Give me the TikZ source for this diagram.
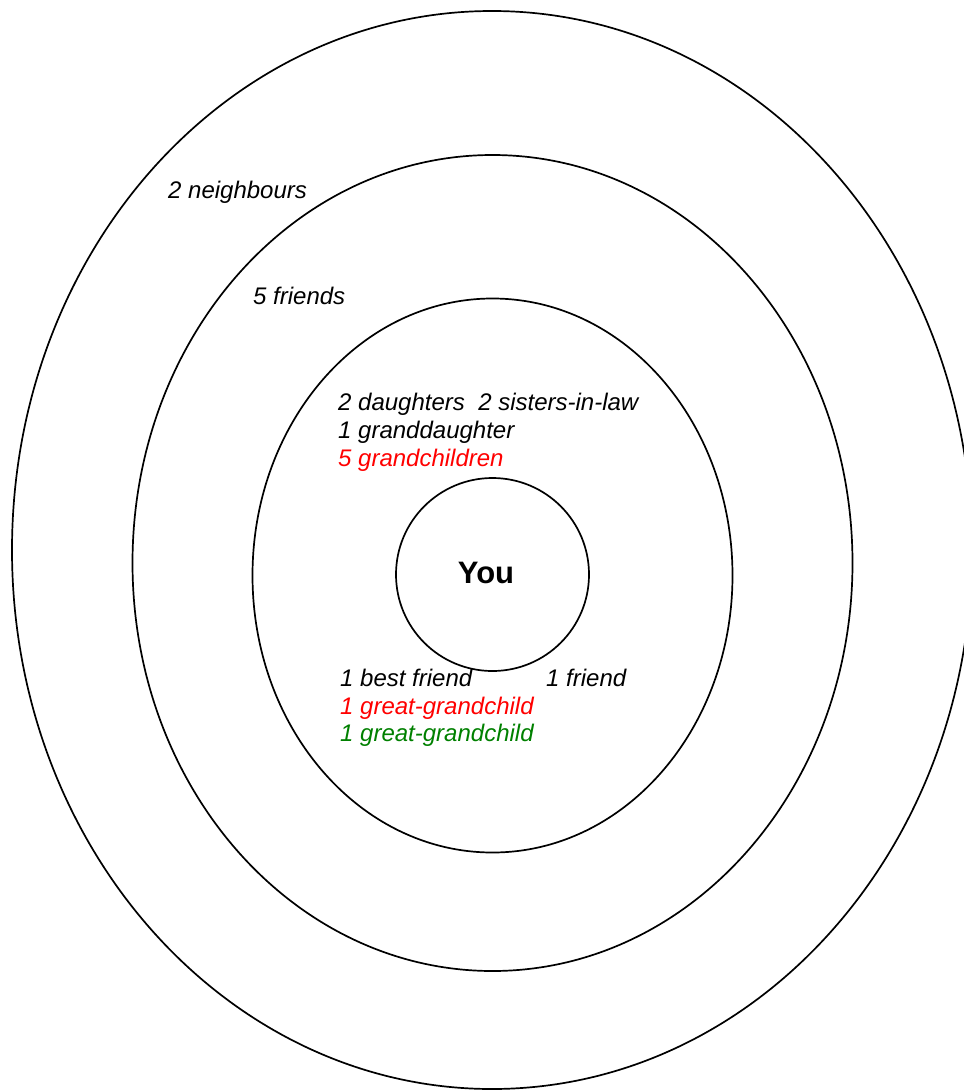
\documentclass[tikz,border=0pt]{standalone}
\usepackage{fontspec}
\setmainfont{Liberation Sans}
\usepackage{xcolor}
\usetikzlibrary{positioning}
\definecolor{labelred}{RGB}{255,0,0}
\definecolor{labelgreen}{RGB}{0,128,0}

\begin{document}
\begin{tikzpicture}[x=1pt,y=-1pt,
	ring/.style={line width=1.7pt},
	lbl/.style={anchor=base west,inner sep=0pt,font=\fontsize{24}{28}\selectfont\itshape}]
	\useasboundingbox (0,0) rectangle (964,1090);
	\clip (0,0) rectangle (964,1090);
	
	% circles of closeness
	\draw[ring] (492,550) ellipse [x radius=480pt, y radius=539pt];
	\draw[ring] (492.5,563) ellipse [x radius=360pt, y radius=408pt];
	\draw[ring] (492.5,575.5) ellipse [x radius=240pt, y radius=277pt];
	\draw[ring] (492.5,574.5) circle [radius=96.5pt];
	
	\node[font=\fontsize{31}{31}\selectfont\bfseries] (you) at (486,573) {You};
	
	% outer rings
	\node[lbl] (neigh) at (168,198) {2 neighbours};
	\node[lbl] (friends) at (253,304) {5 friends};
	
	% inner ring, above
	\node[lbl] (daught) at (338,410) {2 daughters\ \ 2 sisters-in-law};
	\node[lbl] (grand) at (338,438) {1 granddaughter};
	\node[lbl,text=labelred] (grandch) at (338,466) {5 grandchildren};
	
	% inner ring, below
	\node[lbl] (best) at (340,686) {1 best friend};
	\node[lbl] (friend) at (546,686) {1 friend};
	\node[lbl,text=labelred] (ggred) at (340,714) {1 great-grandchild};
	\node[lbl,text=labelgreen] (gggreen) at (340,741) {1 great-grandchild};
\end{tikzpicture}
\end{document}
